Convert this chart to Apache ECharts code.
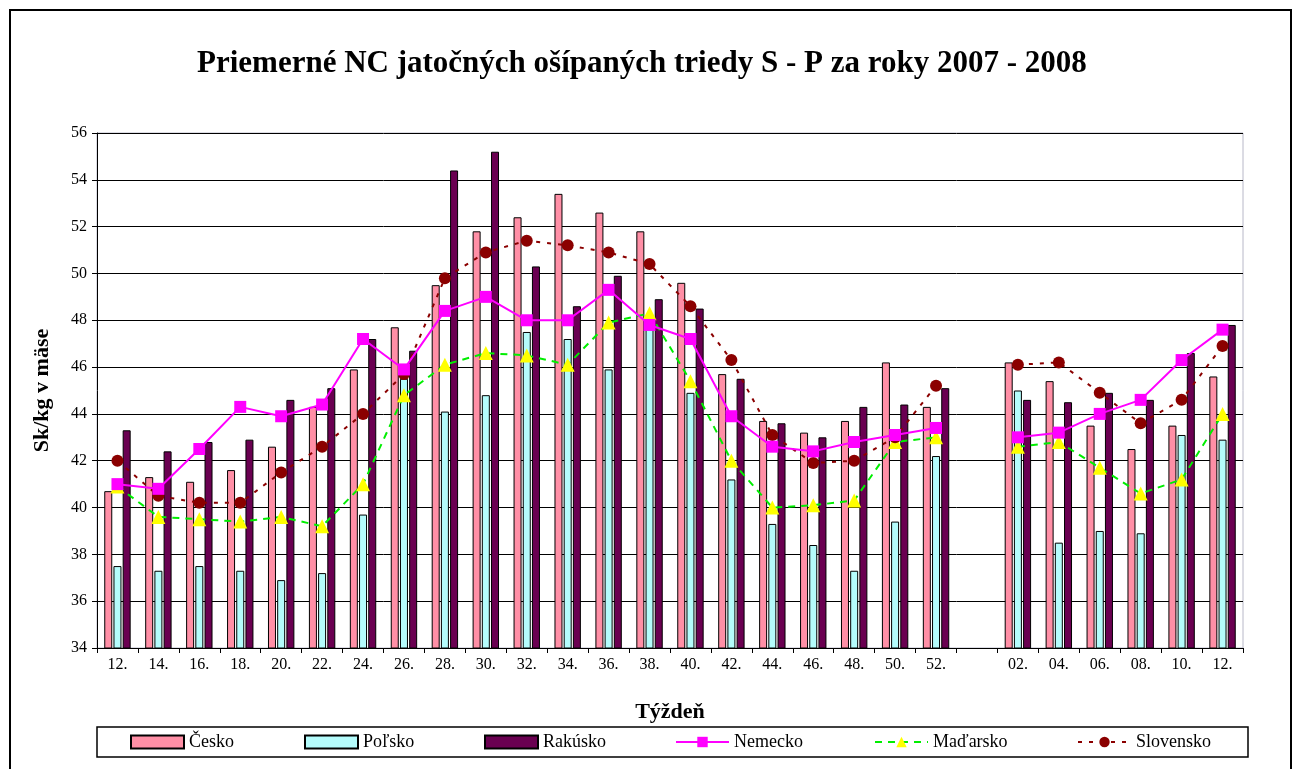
<!DOCTYPE html>
<html>
<head>
<meta charset="utf-8">
<script src="https://cdn.jsdelivr.net/npm/echarts@6/dist/echarts.min.js"></script>
<style>
html,body{margin:0;padding:0;background:#fff;}
#c{width:1301px;height:769px;}
</style>
</head>
<body>
<div id="c"></div>
<script>
const categories = ['12.','14.','16.','18.','20.','22.','24.','26.','28.','30.','32.','34.','36.','38.','40.','42.','44.','46.','48.','50.','52.','','02.','04.','06.','08.','10.','12.'];
const cesko     = [40.7,41.3,41.1,41.6,42.6,44.3,45.9,47.7,49.5,51.8,52.4,53.4,52.6,51.8,49.6,45.7,43.7,43.2,43.7,46.2,44.3,'-',46.2,45.4,43.5,42.5,43.5,45.6];
const polsko    = [37.5,37.3,37.5,37.3,36.9,37.2,39.7,45.5,44.1,44.8,47.5,47.2,45.9,47.7,44.9,41.2,39.3,38.4,37.3,39.4,42.2,'-',45.0,38.5,39.0,38.9,43.1,42.9];
const rakusko   = [43.3,42.4,42.8,42.9,44.6,45.1,47.2,46.7,54.4,55.2,50.3,48.6,49.9,48.9,48.5,45.5,43.6,43.0,44.3,44.4,45.1,'-',44.6,44.5,44.9,44.6,46.6,47.8];
const nemecko   = [41.0,40.8,42.5,44.3,43.9,44.4,47.2,45.9,48.4,49.0,48.0,48.0,49.3,47.8,47.2,43.9,42.6,42.4,42.8,43.1,43.4,'-',43.0,43.2,44.0,44.6,46.3,47.6];
const madarsko  = [40.9,39.6,39.5,39.4,39.6,39.2,41.0,44.8,46.1,46.6,46.5,46.1,47.9,48.3,45.4,42.0,40.0,40.1,40.3,42.8,43.0,'-',42.6,42.8,41.7,40.6,41.2,44.0];
const slovensko = [42.0,40.5,40.2,40.2,41.5,42.6,44.0,45.7,49.8,50.9,51.4,51.2,50.9,50.4,48.6,46.3,43.1,41.9,42.0,43.0,45.2,'-',46.1,46.2,44.9,43.6,44.6,46.9];
const seriesNames = ['Česko','Poľsko','Rakúsko','Nemecko','Maďarsko','Slovensko'];
const yTicks = {min:34, max:56, step:2};

const SERIF = '"Liberation Serif","Times New Roman",serif';
const chart = echarts.init(document.getElementById('c'), null, {renderer:'canvas'});

const barStyle = (color) => ({color: color, borderColor:'#000', borderWidth:1});
const legendX = [130, 304, 484, 675, 874, 1077];

const option = {
  backgroundColor:'#fff',
  animation:false,
  title:{
    text:'Priemerné NC jatočných ošípaných triedy S - P za roky 2007 - 2008',
    left:192, top:43,
    textStyle:{fontFamily:SERIF, fontSize:31, fontWeight:'bold', color:'#000'}
  },
  graphic:[
    {type:'rect', shape:{x:10, y:10, width:1281, height:770}, style:{fill:'none', stroke:'#000', lineWidth:2}, z:-1},
    {type:'rect', shape:{x:97, y:727, width:1151, height:30}, style:{fill:'#fff', stroke:'#000', lineWidth:1.5}, z:0}
  ],
  legend: seriesNames.map((n,i)=>({
    data:[i<3 ? {name:n, icon:'rect'} : n], left:legendX[i], top:733, itemWidth:53, itemHeight:13, itemGap:6,
    textStyle:{fontFamily:SERIF, fontSize:18, color:'#000'}, z:5, padding:0
  })),
  grid:{left:97, top:133, right:58, bottom:121, show:true, borderColor:'#b8b8c8', borderWidth:1, backgroundColor:'#fff'},
  xAxis:{
    type:'category', data:categories, boundaryGap:true,
    axisLine:{lineStyle:{color:'#000', width:1}},
    axisTick:{show:true, alignWithLabel:false, length:5, lineStyle:{color:'#000'}, interval:0},
    axisLabel:{interval:0, fontFamily:SERIF, fontSize:16, color:'#000', margin:9},
    name:'Týždeň', nameLocation:'middle', nameGap:53,
    nameTextStyle:{fontFamily:SERIF, fontSize:22, fontWeight:'bold', color:'#000'}
  },
  yAxis:{
    type:'value', min:yTicks.min, max:yTicks.max, interval:yTicks.step,
    axisLine:{show:true, lineStyle:{color:'#000', width:1}},
    axisTick:{show:true, length:5, lineStyle:{color:'#000'}},
    axisLabel:{fontFamily:SERIF, fontSize:16, color:'#000', margin:10},
    splitLine:{show:true, lineStyle:{color:'#000', width:1}},
    name:'Sk/kg v mäse', nameLocation:'middle', nameGap:44, nameRotate:90,
    nameTextStyle:{fontFamily:SERIF, fontSize:22, fontWeight:'bold', color:'#000'}
  },
  series:[
    {name:'Česko', type:'bar', data:cesko, barWidth:8, barGap:'15%', itemStyle:barStyle('#ff8fa6')},
    {name:'Poľsko', type:'bar', data:polsko, barWidth:8, barGap:'15%', itemStyle:barStyle('#b4fcfc')},
    {name:'Rakúsko', type:'bar', data:rakusko, barWidth:8, barGap:'15%', itemStyle:barStyle('#6a0051')},
    {name:'Nemecko', type:'line', data:nemecko, connectNulls:false, symbol:'rect', symbolSize:12,
      lineStyle:{color:'#ff00ff', width:2}, itemStyle:{color:'#ff00ff'}, z:4},
    {name:'Maďarsko', type:'line', data:madarsko, connectNulls:false, symbol:'triangle', symbolSize:14,
      lineStyle:{color:'#00ee00', width:2, type:[7,6]}, itemStyle:{color:'#ffff00', borderWidth:0}, z:3},
    {name:'Slovensko', type:'line', data:slovensko, connectNulls:false, symbol:'circle', symbolSize:12,
      lineStyle:{color:'#8b0000', width:2, type:[4,7]}, itemStyle:{color:'#8b0000'}, z:3}
  ]
};
chart.setOption(option);
</script>
</body>
</html>
